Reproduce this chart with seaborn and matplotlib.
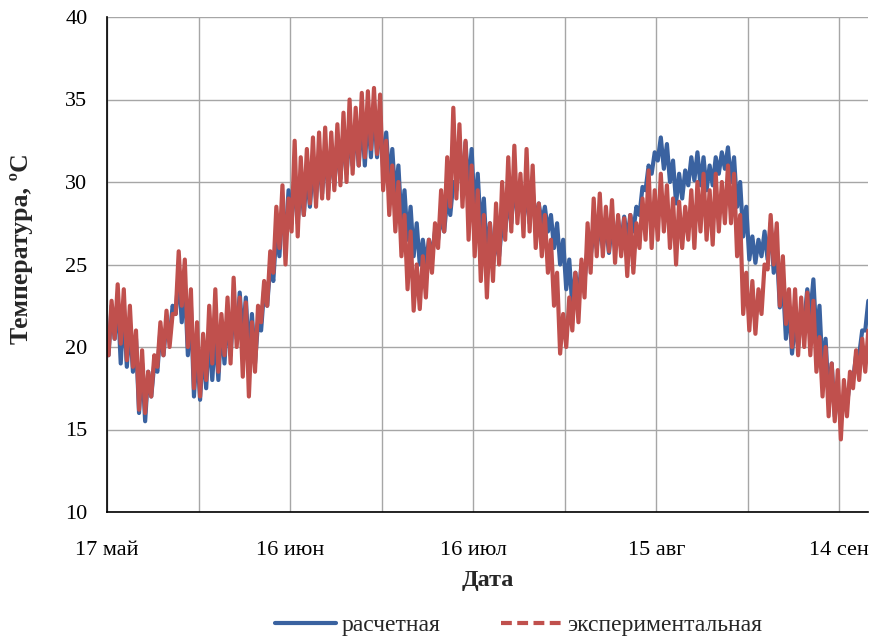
import numpy as np
import pandas as pd
import matplotlib
matplotlib.use("Agg")
import matplotlib.pyplot as plt
from matplotlib.lines import Line2D
import seaborn as sns

# x tick labels (every 30 days starting 17 May)
tick_labels = ["17 май", "16 июн", "16 июл", "15 авг", "14 сен"]

# experimental (measured) daily low / high, day 0 = 17 May
exp_lo = [19.5, 20.5, 20.2, 19.2, 18.8, 16.2, 16.0, 17.0, 18.8, 19.5,
          20.0, 22.0, 22.5, 20.0, 17.5, 17.0, 18.0, 19.0, 18.5, 19.5,
          19.0, 20.0, 18.2, 17.0, 18.5, 21.5, 22.5, 24.5, 26.0, 25.0,
          27.0, 26.7, 28.0, 28.7, 28.5, 29.0, 29.0, 29.5, 29.8, 30.0,
          30.5, 31.0, 31.5, 32.0, 31.7, 29.5, 28.0, 27.0, 25.5, 23.5,
          22.2, 22.3, 23.0, 24.5, 26.0, 27.0, 28.5, 29.0, 28.5, 26.5,
          25.5, 24.0, 23.0, 24.0, 25.0, 26.5, 27.0, 27.5, 26.7, 27.0,
          26.0, 25.5, 24.5, 22.5, 19.6, 20.0, 21.0, 21.5, 23.0, 24.5,
          25.5, 25.5, 25.8, 25.1, 25.5, 24.3, 24.5, 26.0, 26.5, 26.0,
          26.5, 27.0, 26.0, 25.0, 26.0, 26.5, 26.0, 27.0, 26.5, 26.2,
          27.0, 27.5, 27.5, 25.5, 22.0, 21.0, 20.8, 22.0, 24.7, 25.0,
          22.5, 21.4, 20.0, 19.5, 20.0, 19.5, 18.5, 17.0, 15.8, 15.5,
          14.4, 15.8, 17.5, 18.0, 18.5]
exp_hi = [22.8, 23.8, 23.5, 22.5, 21.0, 19.8, 18.5, 19.5, 21.5, 22.2,
          22.0, 25.8, 25.3, 23.5, 21.5, 20.8, 22.5, 23.5, 22.0, 23.0,
          24.2, 23.0, 22.7, 21.5, 22.5, 24.0, 25.8, 28.5, 29.8, 29.0,
          32.5, 31.5, 32.0, 32.7, 33.0, 33.3, 33.0, 33.5, 34.2, 35.0,
          34.5, 35.4, 35.5, 35.7, 35.3, 32.5, 31.0, 30.0, 28.0, 27.0,
          25.0, 25.5, 26.5, 27.5, 29.5, 31.5, 34.5, 33.5, 32.5, 31.0,
          29.5, 28.0, 27.5, 28.7, 30.0, 31.5, 32.2, 30.5, 32.0, 31.0,
          28.7, 28.0, 26.5, 24.5, 22.0, 23.0, 24.5, 25.3, 27.5, 29.0,
          29.3, 28.5, 28.9, 28.0, 27.8, 28.0, 27.5, 29.0, 30.7, 29.5,
          30.5, 29.8, 29.0, 28.8, 28.5, 29.5, 30.0, 30.5, 29.5, 30.5,
          30.0, 31.0, 30.5, 28.0, 24.5, 24.0, 23.5, 25.0, 28.0, 27.5,
          25.5, 23.5, 23.5, 23.0, 23.3, 22.8, 20.6, 20.0, 19.0, 18.6,
          18.0, 18.5, 19.8, 20.5, 21.0]

# calculated daily low / high
calc_lo = [19.5, 20.5, 19.0, 18.8, 18.5, 16.0, 15.5, 17.0, 18.5, 19.5,
           20.5, 22.0, 21.5, 19.5, 17.0, 16.8, 17.5, 18.0, 18.0, 19.0,
           19.5, 20.5, 20.5, 19.5, 19.0, 21.0, 22.5, 24.0, 25.5, 26.5,
           27.5, 27.5, 28.0, 28.5, 29.0, 29.3, 29.5, 29.8, 30.2, 30.5,
           31.0, 31.0, 31.0, 31.5, 31.5, 30.8, 30.0, 29.0, 27.5, 26.5,
           25.5, 25.0, 25.0, 25.5, 26.5, 27.0, 28.0, 29.5, 30.0, 29.5,
           28.0, 27.0, 25.5, 25.0, 25.5, 27.0, 27.5, 28.0, 27.7, 27.5,
           27.5, 27.5, 27.0, 26.0, 25.0, 23.5, 22.4, 23.0, 24.0, 25.5,
           26.0, 26.0, 25.7, 26.0, 26.3, 26.5, 27.0, 28.0, 29.5, 30.5,
           31.3, 30.8, 30.0, 28.7, 29.0, 29.8, 30.1, 29.8, 29.5, 29.8,
           30.5, 30.8, 30.0, 28.5, 26.7, 25.3, 25.1, 25.5, 25.3, 24.5,
           22.4, 20.5, 19.6, 20.0, 21.5, 22.0, 20.5, 18.5, 17.0, 15.8,
           15.8, 16.5, 18.0, 19.5, 21.0]
calc_hi = [22.5, 23.0, 22.5, 21.5, 20.5, 19.0, 18.5, 19.0, 21.0, 21.5,
           22.5, 24.5, 24.0, 22.5, 20.0, 20.0, 21.0, 21.0, 21.5, 22.0,
           22.5, 23.3, 23.0, 22.0, 21.5, 23.5, 25.0, 27.0, 28.5, 29.5,
           30.5, 30.0, 30.5, 31.0, 31.5, 32.0, 32.0, 32.5, 33.0, 33.0,
           33.5, 34.0, 34.3, 34.8, 34.0, 33.0, 32.0, 31.0, 29.5, 28.5,
           27.5, 26.5, 26.5, 27.0, 28.0, 29.0, 30.0, 31.5, 32.4, 32.0,
           30.5, 29.0, 27.5, 26.5, 27.5, 29.0, 30.0, 30.0, 29.5, 29.5,
           28.7, 28.5, 28.0, 27.5, 26.5, 25.3, 24.5, 25.0, 26.0, 27.0,
           27.5, 27.5, 27.5, 27.7, 27.9, 28.0, 28.5, 29.7, 31.0, 31.8,
           32.7, 32.3, 31.3, 30.5, 30.7, 31.5, 31.8, 31.5, 31.0, 31.5,
           31.8, 32.1, 31.5, 30.0, 28.5, 26.7, 26.5, 27.0, 27.5, 26.0,
           24.0, 22.5, 21.5, 22.0, 23.5, 24.1, 22.5, 20.5, 19.0, 17.0,
           17.0, 18.0, 19.5, 21.0, 22.8]


def zigzag(lo, hi):
    n = len(lo)
    days = np.arange(n)
    t = np.empty(2 * n)
    v = np.empty(2 * n)
    t[0::2] = days + 0.25
    t[1::2] = days + 0.75
    v[0::2] = lo
    v[1::2] = hi
    return pd.DataFrame({"day": t, "temp": v})


calc_df = zigzag(calc_lo, calc_hi)
exp_df = zigzag(exp_lo, exp_hi)

sns.set_theme(style="white")
plt.rcParams["font.family"] = ["Liberation Serif", "DejaVu Serif"]

blue = "#3A62A0"
red = "#C0504D"

fig = plt.figure(figsize=(8.72, 6.42), dpi=100)
ax = fig.add_axes([107 / 872, 1 - 512 / 642, (868 - 107) / 872, (512 - 17) / 642])

sns.lineplot(data=calc_df, x="day", y="temp", ax=ax, color=blue, lw=3.0,
             estimator=None, sort=False)
sns.lineplot(data=exp_df, x="day", y="temp", ax=ax, color=red, lw=3.0,
             estimator=None, sort=False, dashes=False)

ax.set_xlim(0, 124.7)
ax.set_ylim(10, 40)
ax.set_xticks(np.arange(0, 121, 30))
ax.set_xticklabels(tick_labels)
ax.set_xticks(np.arange(15, 121, 30), minor=True)
ax.set_yticks(np.arange(10, 41, 5))
ax.grid(True, which="both", color="#A6A6A6", lw=1.0)
ax.set_axisbelow(True)

for s in ["top", "right"]:
    ax.spines[s].set_visible(False)
for s in ["left", "bottom"]:
    ax.spines[s].set_color("black")
    ax.spines[s].set_linewidth(1.2)

ax.tick_params(axis="both", which="major", direction="inout", length=8,
               width=1.0, color="black", labelsize=16, labelcolor="black")
ax.tick_params(axis="x", which="major", pad=17)
ax.tick_params(axis="y", which="major", pad=10)
ax.tick_params(axis="x", which="minor", length=0)

ax.set_xlabel("Дата", fontsize=17.5, fontweight="bold", labelpad=7)
ax.set_ylabel("Температура, ºC", fontsize=18.5, fontweight="bold")
ax.yaxis.set_label_coords(-0.097, (512 - 249) / 495)

handles = [Line2D([], [], color=blue, lw=3.0),
           Line2D([], [], color=red, lw=3.0, dashes=(2.6, 1.3))]
fig.legend(handles, ["расчетная", "экспериментальная"], loc="center",
           bbox_to_anchor=(0.595, 0.026), ncol=2, frameon=False,
           fontsize=17, handlelength=2.6, handletextpad=0.2, columnspacing=2.6,
           borderpad=0.2)

fig.savefig("out.png", dpi=100)
